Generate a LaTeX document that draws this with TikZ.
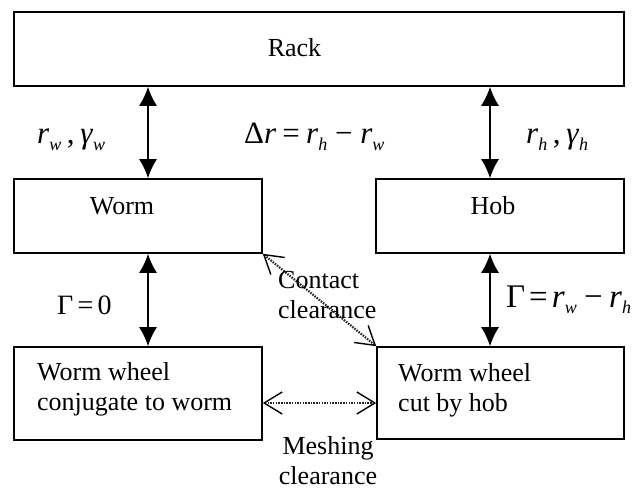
\documentclass[tikz,border=0pt]{standalone}
\usepackage{fontspec}
\setmainfont{Liberation Serif}
\newfontfamily\labfont{Liberation Serif}
\usetikzlibrary{arrows.meta}
\newcommand{\lsub}[1]{\raisebox{-0.2em}{\fontsize{18}{18}\selectfont\itshape #1}}
\newcommand{\gap}{\hspace{0.18em}}
\begin{document}
\begin{tikzpicture}[x=1pt,y=-1pt,
  box/.style={draw,line width=1.6pt,rectangle,inner sep=0pt},
  boxtext/.style={inner sep=0pt,font=\fontsize{26}{30}\selectfont},
  mathlab/.style={inner sep=0pt,anchor=base west},
  solidarr/.style={line width=1.6pt,{Latex[length=19pt,width=18pt]}-{Latex[length=19pt,width=18pt]}},
  dotarr/.style={line width=2.2pt,black!85,dash pattern=on 1.5pt off 1.2pt,
     {Straight Barb[length=18pt,width=22pt,line width=1.4pt,black]}-{Straight Barb[length=18pt,width=22pt,line width=1.4pt,black]}}]
\fill[white] (0,0) rectangle (639,489);
\useasboundingbox (0,0) rectangle (639,489);
% boxes
\node[box,minimum width=610pt,minimum height=74pt] (rack) at (319,49) {};
\node[box,minimum width=248pt,minimum height=74pt] (worm) at (138,216) {};
\node[box,minimum width=248pt,minimum height=74pt] (hob) at (500,216) {};
\node[box,minimum width=248pt,minimum height=93pt] (wheelc) at (138,393.5) {};
\node[box,minimum width=247pt,minimum height=92pt] (wheelh) at (500.5,393) {};
% box texts
\node[boxtext,anchor=base] (tr) at (294.5,57) {Rack};
\node[boxtext,anchor=base] (tw) at (122,214) {Worm};
\node[boxtext,anchor=base] (th) at (493,214) {Hob};
\node[boxtext,anchor=north west,align=left] (twc) at (37,362) {Worm wheel\\conjugate to worm};
\node[boxtext,anchor=north west,align=left] (twh) at (398,363) {Worm wheel\\cut by hob};
% connector positions
\coordinate (xl) at (148,0);
\coordinate (xr) at (490,0);
\coordinate (ym) at (0,403);
% solid arrows
\draw[solidarr] (rack.south -| xl) -- (worm.north -| xl);
\draw[solidarr] (rack.south -| xr) -- (hob.north -| xr);
\draw[solidarr] (worm.south -| xl) -- (wheelc.north -| xl);
\draw[solidarr] (hob.south -| xr) -- (wheelh.north -| xr);
% dotted arrows
\draw[dotarr] (worm.south east) -- (wheelh.north west);
\draw[dotarr] (wheelc.east |- ym) -- (wheelh.west |- ym);
% labels
\node[mathlab,font=\labfont\fontsize{31}{32}\selectfont] (lrw) at (37,144) {\textit{r}\lsub{w}\gap,\gap\textit{γ}\lsub{w}};
\node[mathlab,font=\labfont\fontsize{31}{32}\selectfont] (ldr) at (244,144) {Δ\textit{r}\hspace{0.2em}=\hspace{0.2em}\textit{r}\lsub{h}\hspace{0.25em}−\hspace{0.25em}\textit{r}\lsub{w}};
\node[mathlab,font=\labfont\fontsize{31}{32}\selectfont] (lrh) at (526,144) {\textit{r}\lsub{h}\gap,\gap\textit{γ}\lsub{h}};
\node[mathlab,font=\labfont\fontsize{28}{30}\selectfont] (lg0) at (57,314) {Γ\hspace{0.15em}=\hspace{0.15em}0};
\node[mathlab,font=\labfont\fontsize{33}{34}\selectfont] (lgr) at (506,307) {Γ\hspace{0.12em}=\hspace{0.12em}\textit{r}\lsub{w}\hspace{0.22em}−\hspace{0.2em}\textit{r}\lsub{h}};
\node[boxtext,anchor=north west,align=left] (lcc) at (278,271) {Contact\\clearance};
\node[boxtext,anchor=north,align=center] (lmc) at (328,436) {Meshing\\clearance};
\end{tikzpicture}
\end{document}
